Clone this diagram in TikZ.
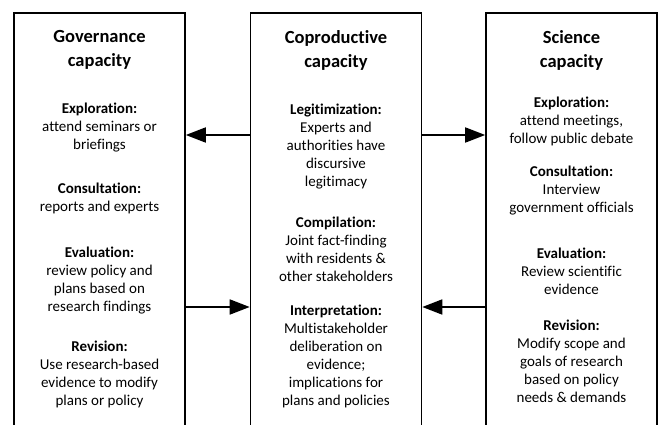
\documentclass[tikz,border=0pt]{standalone}
\usepackage{fontspec}
\setmainfont{Carlito}[Ligatures=NoCommon]
\usetikzlibrary{arrows.meta}

\begin{document}
\begin{tikzpicture}[x=1pt, y=-1pt,
    capbox/.style  = {draw, line width=1.6pt, minimum width=171pt, minimum height=430pt, inner sep=0pt},
    heading/.style = {align=center, font=\fontsize{18.5}{24}\selectfont\bfseries},
    entry/.style   = {align=center, font=\fontsize{15}{18}\selectfont},
    flow/.style    = {line width=1.8pt, -{Triangle[length=20pt,width=15pt]}}]
  \clip (0,0) rectangle (659,425);
  \node[capbox] (gov)   at ( 99.5,228) {};
  \node[capbox] (copro) at (336,228)   {};
  \node[capbox] (sci)   at (571.5,228) {};

  \node[heading] (gtitle)   at ( 99.5,50)   {Governance\\capacity};
  \node[entry]   (gexplo)   at ( 99.5,128)  {\textbf{Exploration:}\\attend seminars or\\briefings};
  \node[entry]   (gconsult) at ( 99.5,198.5){\textbf{Consultation:}\\reports and experts};
  \node[entry]   (geval)    at ( 99.5,280.5){\textbf{Evaluation:}\\review policy and\\plans based on\\research findings};
  \node[entry]   (grevis)   at ( 99.5,374.5){\textbf{Revision:}\\Use research-based\\evidence to modify\\plans or policy};

  \node[heading] (ctitle)   at (336,50)     {Coproductive\\capacity};
  \node[entry]   (clegit)   at (336,146.5)  {\textbf{Legitimization:}\\Experts and\\authorities have\\discursive\\legitimacy};
  \node[entry]   (ccompil)  at (336,249)    {\textbf{Compilation:}\\Joint fact-finding\\with residents \&\\other stakeholders};
  \node[entry]   (cinterp)  at (336,356)    {\textbf{Interpretation:}\\Multistakeholder\\deliberation on\\evidence;\\implications for\\plans and policies};

  \node[heading] (stitle)   at (571.5,50)   {Science\\capacity};
  \node[entry]   (sexplo)   at (571.5,121)  {\textbf{Exploration:}\\attend meetings,\\follow public debate};
  \node[entry]   (sconsult) at (571.5,191)  {\textbf{Consultation:}\\Interview\\government officials};
  \node[entry]   (seval)    at (571.5,271.5){\textbf{Evaluation:}\\Review scientific\\evidence};
  \node[entry]   (srevis)   at (571.5,361.5){\textbf{Revision:}\\Modify scope and\\goals of research\\based on policy\\needs \& demands};

  \coordinate (upper) at (0,135);
  \coordinate (lower) at (0,307);
  \draw[flow] (copro.west |- upper) -- (gov.east |- upper);
  \draw[flow] (copro.east |- upper) -- (sci.west |- upper);
  \draw[flow] (gov.east |- lower)   -- (copro.west |- lower);
  \draw[flow] (sci.west |- lower)   -- (copro.east |- lower);
\end{tikzpicture}
\end{document}
